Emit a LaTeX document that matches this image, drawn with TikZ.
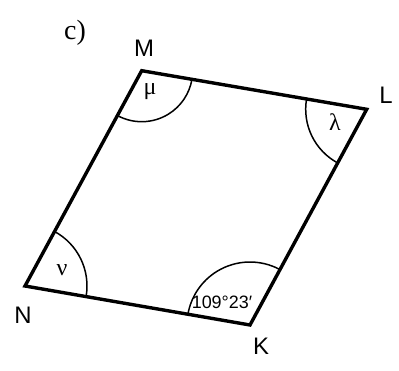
\documentclass[tikz,border=0pt]{standalone}
\usepackage{fontspec}
\setmainfont{Liberation Sans}
\newfontfamily\grfont{Liberation Serif}
\usetikzlibrary{angles}
\tikzset{
  side/.style={line width=3.4bp, line join=miter},
  angarc/.style={draw, line width=1.5bp},
  vlabel/.style={font=\fontsize{24}{26}\selectfont},
  anglabel/.style={font=\grfont\fontsize{24}{26}\selectfont},
  vallabel/.style={font=\fontsize{18}{20}\selectfont}
}
\begin{document}
\begin{tikzpicture}[x=1bp,y=1bp]
\useasboundingbox (0,0) rectangle (399,371);
% vertices
\coordinate (M) at (141.7,300.3);
\coordinate (L) at (366.7,261.7);
\coordinate (K) at (250,46);
\coordinate (N) at (25,85);

% sides
\draw[side] (M) -- (L) -- (K) -- (N) -- cycle;

% angles
\pic[angarc, angle radius=51bp] {angle=N--M--L};
\pic[angarc, angle radius=61bp] {angle=M--L--K};
\pic[angarc, angle radius=63bp] {angle=L--K--N};
\pic[angarc, angle radius=62bp] {angle=K--N--M};

% labels
\node[font=\grfont\fontsize{28}{30}\selectfont] (part) at (75,338) {c)};
\node[vlabel] (lM) at (144,323) {M};
\node[vlabel] (lL) at (386,276) {L};
\node[vlabel] (lN) at (23,56) {N};
\node[vlabel] (lK) at (261,25) {K};
\node[anglabel] (mu) at (150,279) {μ};
\node[anglabel] (lambda) at (335,249) {λ};
\node[anglabel] (nu) at (62,101) {ν};
\node[vallabel] (val) at (222,69) {109°23′};
\end{tikzpicture}
\end{document}
